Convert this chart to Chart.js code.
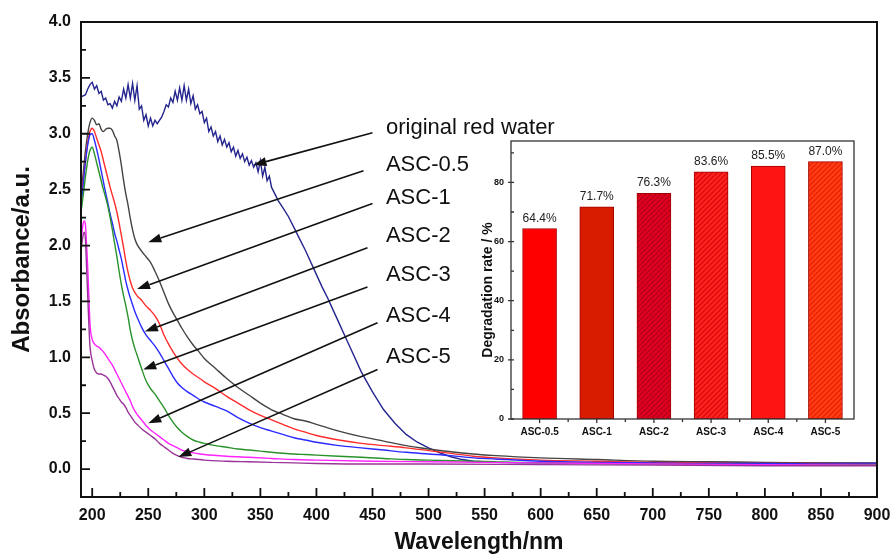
<!DOCTYPE html>
<html>
<head>
<meta charset="utf-8">
<script src="https://cdn.jsdelivr.net/npm/chart.js@4.4.1/dist/chart.umd.min.js"></script>
<style>
  html, body { margin: 0; padding: 0; background: #fff; }
  #wrap { position: relative; width: 892px; height: 557px; }
  #mainChart { position: absolute; left: 0; top: 0; }
  #insetChart { position: absolute; left: 455px; top: 125px; }
</style>
</head>
<body>
<div id="wrap">
  <canvas id="mainChart" width="892" height="557"></canvas>
  <canvas id="insetChart" width="415" height="320"></canvas>
</div>
<script>
// ---- main spectra ----
const xTicks = [200, 250, 300, 350, 400, 450, 500, 550, 600, 650, 700, 750, 800, 850, 900];
const yTicks = [0.0, 0.5, 1.0, 1.5, 2.0, 2.5, 3.0, 3.5, 4.0];

// original red water (noisy trace)
const wlOriginal = [
  190,192,194,196,198,200,202,204,206,208,210,212,214,216,218,220,222,224,226,228,
  230,232,234,236,238,240,242,244,246,248,250,252,254,256,258,260,262,264,266,268,
  270,272,274,276,278,280,282,284,286,288,290,292,294,296,298,300,302,304,306,308,
  310,312,314,316,318,320,322,324,326,328,330,332,334,336,338,340,342,344,346,348,
  350,352,354,356,358,360,362,364,366,
  370,375,380,385,390,395,400,405,410,415,420,425,430,
  440,450,460,470,480,490,500,510,520,530,540,
  560,580,600,650,700,750,800,850,900
];
const absOriginal = [
  3.33,3.34,3.35,3.40,3.44,3.46,3.40,3.43,3.36,3.38,3.30,3.32,3.26,3.27,3.23,3.29,3.25,3.33,3.29,3.40,
  3.32,3.44,3.32,3.45,3.30,3.43,3.22,3.25,3.12,3.17,3.07,3.14,3.07,3.12,3.09,3.12,3.15,3.20,3.26,3.24,
  3.32,3.28,3.38,3.30,3.41,3.30,3.43,3.30,3.40,3.27,3.34,3.22,3.26,3.18,3.20,3.10,3.14,3.02,3.06,2.98,
  3.02,2.93,2.98,2.90,2.95,2.88,2.92,2.84,2.88,2.80,2.85,2.78,2.82,2.75,2.79,2.72,2.76,2.70,2.74,2.66,
  2.76,2.62,2.70,2.58,2.62,2.52,2.48,2.44,2.40,
  2.34,2.26,2.16,2.06,1.96,1.85,1.74,1.63,1.53,1.42,1.31,1.20,1.09,
  0.87,0.69,0.53,0.41,0.31,0.24,0.19,0.145,0.11,0.085,0.07,
  0.06,0.055,0.055,0.055,0.055,0.055,0.055,0.055,0.055
];

// ASC-0.5 .. ASC-3 share this wavelength grid
const wlA = [
  190,192,194,196,198,200,202,204,206,208,210,212,214,216,218,220,222,224,226,228,230,232,234,236,238,240,
  244,248,252,256,260,264,268,272,276,280,
  285,290,296,300,
  310,320,330,340,350,360,370,380,390,400,
  420,440,460,480,500,520,540,560,
  600,650,700,750,800,850,900
];
const absASC05 = [
  2.45,2.65,2.85,3.00,3.10,3.14,3.12,3.08,3.09,3.04,3.02,3.04,3.05,3.05,3.03,2.98,2.94,2.84,2.72,2.58,2.46,2.36,2.24,2.14,2.06,2.01,
  1.95,1.90,1.85,1.77,1.68,1.58,1.48,1.40,1.33,1.26,
  1.18,1.11,1.04,0.99,
  0.90,0.81,0.73,0.66,0.59,0.53,0.49,0.45,0.43,0.40,
  0.34,0.29,0.25,0.21,0.18,0.155,0.135,0.12,
  0.10,0.085,0.07,0.065,0.06,0.055,0.05
];
const absASC1 = [
  2.40,2.58,2.76,2.92,3.02,3.05,3.02,2.96,2.90,2.84,2.76,2.68,2.60,2.52,2.45,2.38,2.30,2.20,2.09,1.98,1.86,1.76,1.68,1.62,1.58,1.55,
  1.51,1.46,1.42,1.37,1.30,1.20,1.12,1.05,0.99,0.94,
  0.89,0.85,0.81,0.78,
  0.72,0.65,0.59,0.53,0.48,0.44,0.40,0.36,0.33,0.30,
  0.26,0.23,0.21,0.19,0.165,0.14,0.115,0.10,
  0.08,0.07,0.06,0.055,0.05,0.05,0.045
];
const absASC2 = [
  2.35,2.55,2.75,2.90,2.99,3.00,2.94,2.86,2.77,2.67,2.57,2.47,2.38,2.28,2.20,2.11,2.04,1.96,1.88,1.78,1.68,1.60,1.53,1.47,1.41,1.36,
  1.27,1.20,1.15,1.10,1.04,0.97,0.90,0.83,0.77,0.73,
  0.69,0.66,0.62,0.60,
  0.56,0.52,0.46,0.41,0.37,0.34,0.31,0.28,0.26,0.24,
  0.21,0.19,0.17,0.15,0.135,0.12,0.10,0.09,
  0.07,0.06,0.055,0.05,0.05,0.045,0.045
];
const absASC3 = [
  2.30,2.45,2.62,2.76,2.85,2.88,2.82,2.74,2.66,2.58,2.50,2.43,2.35,2.25,2.14,2.02,1.90,1.77,1.65,1.55,1.46,1.36,1.24,1.15,1.08,1.02,
  0.90,0.79,0.72,0.67,0.61,0.55,0.48,0.42,0.37,0.33,
  0.29,0.26,0.24,0.23,
  0.21,0.195,0.18,0.17,0.16,0.15,0.142,0.135,0.13,0.125,
  0.115,0.105,0.095,0.085,0.08,0.075,0.07,0.065,
  0.055,0.05,0.045,0.042,0.04,0.04,0.04
];

// ASC-4 and ASC-5 share this grid
const wlB = [
  190,192,193,194,195,196,197,198,
  200,202,204,206,208,210,212,214,216,218,220,222,224,226,228,230,232,234,236,238,240,
  244,248,252,256,260,264,268,272,276,280,
  285,290,296,300,
  320,340,360,380,400,
  450,500,600,700,800,900
];
const absASC4 = [
  2.05,2.20,2.22,2.18,2.00,1.80,1.55,1.30,
  1.16,1.12,1.10,1.09,1.07,1.05,1.02,0.99,0.96,0.93,0.89,0.85,0.81,0.77,0.73,0.69,0.65,0.61,0.56,0.52,0.49,
  0.44,0.39,0.35,0.32,0.29,0.26,0.23,0.21,0.19,0.17,
  0.155,0.145,0.135,0.13,
  0.115,0.105,0.095,0.085,0.08,
  0.07,0.065,0.055,0.045,0.04,0.035
];
const absASC5 = [
  1.95,2.10,2.12,2.05,1.80,1.55,1.30,1.10,
  0.97,0.89,0.86,0.85,0.85,0.84,0.83,0.81,0.78,0.74,0.70,0.66,0.63,0.60,0.58,0.55,0.51,0.48,0.45,0.42,0.40,
  0.36,0.33,0.30,0.27,0.23,0.20,0.17,0.14,0.12,0.105,
  0.095,0.09,0.085,0.08,
  0.07,0.065,0.06,0.055,0.05,
  0.045,0.045,0.04,0.035,0.03,0.03
];

// ---- labels with arrows (in data units: wavelength, absorbance) ----
const annoText = ["original red water", "ASC-0.5", "ASC-1", "ASC-2", "ASC-3", "ASC-4", "ASC-5"];
const annoTextAt = [[462, 3.0], [462, 2.67], [462, 2.375], [462, 2.03], [462, 1.68], [462, 1.32], [462, 0.946]];
const arrowFrom = [[450, 3.01], [442, 2.67], [450, 2.375], [445.5, 1.98], [445.5, 1.63], [454.5, 1.31], [454.5, 0.89]];
const arrowTo = [[343.8, 2.72], [250, 2.03], [240, 1.61], [247, 1.23], [245.5, 0.89], [250, 0.41], [276.8, 0.107]];

// ---- inset bars ----
const insetCategories = ["ASC-0.5", "ASC-1", "ASC-2", "ASC-3", "ASC-4", "ASC-5"];
const insetValues = [64.4, 71.7, 76.3, 83.6, 85.5, 87.0];
const insetValueLabels = ["64.4%", "71.7%", "76.3%", "83.6%", "85.5%", "87.0%"];
const insetYTicks = [0, 20, 40, 60, 80];

const FONT = "'Liberation Sans', Arial, sans-serif";
const NARROW = "'Liberation Sans Narrow', 'Arial Narrow', 'Liberation Sans', Arial, sans-serif";

function pts(xs, ys) {
  return xs.map((x, i) => ({ x: x, y: ys[i] }));
}

const mainDecor = {
  id: 'mainDecor',
  afterDatasetsDraw(chart) {
    const { ctx, scales: { x, y } } = chart;
    ctx.save();
    // arrows
    ctx.strokeStyle = '#111';
    ctx.fillStyle = '#111';
    ctx.lineWidth = 1.6;
    for (let i = 0; i < arrowFrom.length; i++) {
      const x0 = x.getPixelForValue(arrowFrom[i][0]), y0 = y.getPixelForValue(arrowFrom[i][1]);
      const x1 = x.getPixelForValue(arrowTo[i][0]), y1 = y.getPixelForValue(arrowTo[i][1]);
      const ang = Math.atan2(y1 - y0, x1 - x0);
      const hl = 13, hw = 4.5;
      const bx = x1 - hl * Math.cos(ang), by = y1 - hl * Math.sin(ang);
      ctx.beginPath();
      ctx.moveTo(x0, y0);
      ctx.lineTo(bx, by);
      ctx.stroke();
      ctx.beginPath();
      ctx.moveTo(x1, y1);
      ctx.lineTo(bx + hw * Math.sin(ang), by - hw * Math.cos(ang));
      ctx.lineTo(bx - hw * Math.sin(ang), by + hw * Math.cos(ang));
      ctx.closePath();
      ctx.fill();
    }
    // label texts
    ctx.font = '22px ' + FONT;
    ctx.textAlign = 'left';
    ctx.textBaseline = 'alphabetic';
    for (let i = 0; i < annoText.length; i++) {
      ctx.fillText(annoText[i], x.getPixelForValue(annoTextAt[i][0]), y.getPixelForValue(annoTextAt[i][1]));
    }
    ctx.restore();
  },
  afterDraw(chart) {
    const { ctx, chartArea: a, scales: { x, y } } = chart;
    ctx.save();
    ctx.strokeStyle = '#111';
    ctx.lineWidth = 2;
    ctx.strokeRect(a.left, a.top, a.right - a.left, a.bottom - a.top);
    // inward ticks, minor ones halfway between majors
    ctx.lineWidth = 1.8;
    ctx.beginPath();
    for (let i = 0; i < xTicks.length; i++) {
      const px = x.getPixelForValue(xTicks[i]);
      ctx.moveTo(px, a.bottom); ctx.lineTo(px, a.bottom - 9);
      if (i < xTicks.length - 1) {
        const pm = x.getPixelForValue((xTicks[i] + xTicks[i + 1]) / 2);
        ctx.moveTo(pm, a.bottom); ctx.lineTo(pm, a.bottom - 5);
      }
    }
    for (let i = 0; i < yTicks.length; i++) {
      const py = y.getPixelForValue(yTicks[i]);
      ctx.moveTo(a.left, py); ctx.lineTo(a.left + 9, py);
      if (i < yTicks.length - 1) {
        const pm = y.getPixelForValue((yTicks[i] + yTicks[i + 1]) / 2);
        ctx.moveTo(a.left, pm); ctx.lineTo(a.left + 5, pm);
      }
    }
    ctx.stroke();
    // axis titles
    ctx.fillStyle = '#111';
    ctx.font = 'bold 23px ' + FONT;
    ctx.textAlign = 'center';
    ctx.textBaseline = 'alphabetic';
    ctx.fillText('Wavelength/nm', (a.left + a.right) / 2, 549);
    ctx.font = 'bold 24px ' + FONT;
    ctx.translate(29, (a.top + a.bottom) / 2);
    ctx.rotate(-Math.PI / 2);
    ctx.fillText('Absorbance/a.u.', 0, 0);
    ctx.restore();
  }
};

const lineStyle = (label, data, color, smooth) => ({
  label: label,
  data: data,
  borderColor: color,
  borderWidth: 1.4,
  pointRadius: 0,
  fill: false,
  tension: smooth ? 0.4 : 0,
  cubicInterpolationMode: smooth ? 'monotone' : 'default'
});

new Chart(document.getElementById('mainChart').getContext('2d'), {
  type: 'line',
  data: {
    datasets: [
      lineStyle('ASC-5', pts(wlB, absASC5), '#9a3399', true),
      lineStyle('ASC-4', pts(wlB, absASC4), '#ff22ff', true),
      lineStyle('ASC-3', pts(wlA, absASC3), '#2a922a', true),
      lineStyle('ASC-2', pts(wlA, absASC2), '#2b2bff', true),
      lineStyle('ASC-1', pts(wlA, absASC1), '#ff2b2b', true),
      lineStyle('ASC-0.5', pts(wlA, absASC05), '#444444', true),
      lineStyle('original red water', pts(wlOriginal, absOriginal), '#24248e', false)
    ]
  },
  options: {
    responsive: false,
    animation: false,
    events: [],
    layout: { padding: { top: 22, right: 15, left: 0, bottom: 0 } },
    plugins: { legend: { display: false }, tooltip: { enabled: false } },
    scales: {
      x: {
        type: 'linear',
        min: 190,
        max: 900,
        grid: { display: false, drawTicks: false },
        border: { display: false },
        afterBuildTicks: (s) => { s.ticks = xTicks.map(v => ({ value: v })); },
        afterFit: (s) => { s.height = 60; s.paddingLeft = 0; s.paddingRight = 0; },
        ticks: {
          padding: 9,
          color: '#111',
          font: { family: FONT, size: 16, weight: 'bold' },
          maxRotation: 0,
          autoSkip: false,
          callback: (v) => String(v)
        }
      },
      y: {
        type: 'linear',
        min: -0.25,
        max: 4.0,
        grid: { display: false, drawTicks: false },
        border: { display: false },
        afterBuildTicks: (s) => { s.ticks = yTicks.map(v => ({ value: v })); },
        afterFit: (s) => { s.width = 81; s.paddingTop = 0; s.paddingBottom = 0; },
        ticks: {
          padding: 10,
          color: '#111',
          font: { family: FONT, size: 16, weight: 'bold' },
          autoSkip: false,
          callback: (v) => Number(v).toFixed(1)
        }
      }
    }
  },
  plugins: [mainDecor]
});

// ---- inset chart ----
function hatch(base, stripe) {
  const c = document.createElement('canvas');
  c.width = 5; c.height = 5;
  const g = c.getContext('2d');
  g.fillStyle = base;
  g.fillRect(0, 0, 5, 5);
  g.strokeStyle = stripe;
  g.lineWidth = 1.2;
  g.beginPath();
  g.moveTo(-1, 6); g.lineTo(6, -1);
  g.moveTo(-1, 1); g.lineTo(1, -1);
  g.moveTo(4, 6); g.lineTo(6, 4);
  g.stroke();
  return document.getElementById('insetChart').getContext('2d').createPattern(c, 'repeat');
}

const insetFill = [
  '#ff0000',
  '#d81c00',
  hatch('#e00020', '#b0001a'),
  hatch('#ff2020', '#d20a0a'),
  '#ff1414',
  hatch('#ff3c14', '#e61e00')
];

const insetDecor = {
  id: 'insetDecor',
  beforeDraw(chart) {
    const { ctx, chartArea: a } = chart;
    ctx.save();
    ctx.fillStyle = '#fff';
    ctx.fillRect(a.left, a.top, a.right - a.left, a.bottom - a.top);
    ctx.restore();
  },
  afterDraw(chart) {
    const { ctx, chartArea: a, scales: { x, y } } = chart;
    ctx.save();
    ctx.strokeStyle = '#333';
    ctx.lineWidth = 1.3;
    ctx.strokeRect(a.left, a.top, a.right - a.left, a.bottom - a.top);
    ctx.beginPath();
    for (let i = 0; i < insetYTicks.length; i++) {
      const py = y.getPixelForValue(insetYTicks[i]);
      ctx.moveTo(a.left - 3, py); ctx.lineTo(a.left + 3, py);
      const pm = y.getPixelForValue(insetYTicks[i] + 10);
      ctx.moveTo(a.left, pm); ctx.lineTo(a.left + 3, pm);
    }
    for (let i = 0; i < insetCategories.length; i++) {
      const px = x.getPixelForValue(i);
      ctx.moveTo(px, a.bottom); ctx.lineTo(px, a.bottom + 4);
      if (i < insetCategories.length - 1) {
        const pm = x.getPixelForValue(i + 0.5);
        ctx.moveTo(pm, a.bottom); ctx.lineTo(pm, a.bottom + 3);
      }
    }
    ctx.stroke();
    // value labels
    ctx.fillStyle = '#222';
    ctx.font = '12px ' + NARROW;
    ctx.textAlign = 'center';
    ctx.textBaseline = 'alphabetic';
    for (let i = 0; i < insetValues.length; i++) {
      ctx.fillText(insetValueLabels[i], x.getPixelForValue(i), y.getPixelForValue(insetValues[i]) - 7);
    }
    // y title
    ctx.fillStyle = '#111';
    ctx.font = 'bold 14px ' + FONT;
    ctx.translate(37, 165);
    ctx.rotate(-Math.PI / 2);
    ctx.fillText('Degradation rate / %', 0, 0);
    ctx.restore();
  }
};

new Chart(document.getElementById('insetChart').getContext('2d'), {
  type: 'bar',
  data: {
    labels: insetCategories,
    datasets: [{
      data: insetValues,
      backgroundColor: insetFill,
      borderColor: '#a00000',
      borderWidth: 1,
      borderSkipped: false,
      barThickness: 34
    }]
  },
  options: {
    responsive: false,
    animation: false,
    events: [],
    layout: { padding: { top: 16, right: 16, left: 0, bottom: 0 } },
    plugins: { legend: { display: false }, tooltip: { enabled: false } },
    scales: {
      x: {
        grid: { display: false, drawTicks: false },
        border: { display: false },
        afterFit: (s) => { s.height = 26; s.paddingLeft = 0; s.paddingRight = 0; },
        ticks: {
          padding: 7,
          color: '#111',
          font: { family: NARROW, size: 10, weight: 'bold' },
          maxRotation: 0,
          autoSkip: false
        }
      },
      y: {
        min: 0,
        max: 94,
        grid: { display: false, drawTicks: false },
        border: { display: false },
        afterBuildTicks: (s) => { s.ticks = insetYTicks.map(v => ({ value: v })); },
        afterFit: (s) => { s.width = 56; s.paddingTop = 0; s.paddingBottom = 0; },
        ticks: {
          padding: 7,
          color: '#111',
          font: { family: NARROW, size: 9, weight: 'bold' },
          autoSkip: false
        }
      }
    }
  },
  plugins: [insetDecor]
});
</script>
</body>
</html>
